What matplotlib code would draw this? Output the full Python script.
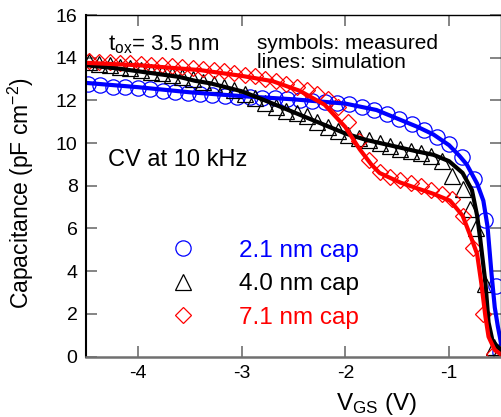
import matplotlib
matplotlib.use('Agg')
import matplotlib.pyplot as plt
from matplotlib.lines import Line2D

plt.rcParams['font.family'] = ['Liberation Sans', 'DejaVu Sans']
plt.rcParams['mathtext.default'] = 'regular'
plt.rcParams['axes.unicode_minus'] = False

# measured data (symbols)
v_21 = [-4.48, -4.36, -4.24, -4.12, -4.00, -3.88, -3.76, -3.64, -3.52, -3.40,
        -3.28, -3.16, -3.04, -2.92, -2.80, -2.68, -2.56, -2.44, -2.32, -2.20,
        -2.08, -1.96, -1.84, -1.72, -1.60, -1.48, -1.36, -1.24, -1.12, -1.00,
        -0.88, -0.76, -0.65, -0.55, -0.51]
c_21 = [12.75, 12.70, 12.65, 12.62, 12.57, 12.52, 12.46, 12.40, 12.35, 12.30,
        12.26, 12.22, 12.18, 12.15, 12.12, 12.10, 12.06, 12.02, 11.98, 11.93,
        11.88, 11.82, 11.68, 11.55, 11.35, 11.15, 10.90, 10.60, 10.30, 9.95,
        9.35, 8.30, 6.40, 3.30, 0.20]

v_40 = [-4.47, -4.37, -4.27, -4.17, -4.07, -3.97, -3.87, -3.77, -3.67, -3.57,
        -3.47, -3.37, -3.27, -3.17, -3.07, -2.97, -2.87, -2.77, -2.67, -2.57,
        -2.47, -2.37, -2.27, -2.17, -2.07, -1.97, -1.87, -1.77, -1.67, -1.57,
        -1.47, -1.37, -1.27, -1.17, -1.07, -0.97, -0.87, -0.80, -0.74, -0.65,
        -0.57, -0.52]
c_40 = [13.78, 13.72, 13.65, 13.58, 13.50, 13.42, 13.35, 13.27, 13.18, 13.08,
        12.98, 12.88, 12.76, 12.62, 12.47, 12.30, 12.10, 11.90, 11.70, 11.50,
        11.40, 11.25, 10.98, 10.75, 10.55, 10.38, 10.25, 10.15, 10.02, 9.88,
        9.72, 9.62, 9.55, 9.40, 9.15, 8.45, 7.85, 6.90, 6.00, 3.40,
        0.45, 0.15]

v_71 = [-4.47, -4.37, -4.27, -4.17, -4.07, -3.97, -3.87, -3.77, -3.67, -3.57,
        -3.47, -3.37, -3.27, -3.17, -3.07, -2.97, -2.87, -2.77, -2.67, -2.57,
        -2.47, -2.37, -2.27, -2.17, -2.07, -1.97, -1.87, -1.77, -1.67, -1.57,
        -1.47, -1.37, -1.27, -1.17, -1.07, -0.97, -0.87, -0.77, -0.67, -0.57]
c_71 = [13.85, 13.82, 13.80, 13.77, 13.74, 13.70, 13.67, 13.64, 13.60, 13.56,
        13.52, 13.47, 13.42, 13.36, 13.28, 13.20, 13.12, 13.02, 12.90, 12.76,
        12.62, 12.48, 12.30, 12.05, 11.70, 11.00, 10.10, 9.20, 8.65, 8.40,
        8.25, 8.12, 7.98, 7.80, 7.62, 7.40, 6.60, 5.10, 2.00, 0.10]

# simulation (lines)
vs_21 = [-4.5, -4.0, -3.5, -3.0, -2.5, -2.0, -1.7, -1.5, -1.3, -1.15, -1.0,
         -0.9, -0.83, -0.73, -0.67, -0.63, -0.59, -0.56, -0.53, -0.51, -0.5]
cs_21 = [12.82, 12.62, 12.38, 12.20, 12.05, 11.85, 11.55, 11.15, 10.75, 10.40,
         9.90, 9.40, 9.00, 8.10, 7.30, 6.10, 3.80, 2.30, 1.40, 0.90, 0.60]

vs_40 = [-4.5, -4.2, -3.9, -3.6, -3.45, -3.3, -3.0, -2.8, -2.6, -2.4, -2.2,
         -2.0, -1.8, -1.5, -1.3, -1.15, -1.0, -0.87, -0.78, -0.73, -0.70,
         -0.65, -0.62, -0.58, -0.5]
cs_40 = [13.65, 13.50, 13.30, 13.10, 12.92, 12.80, 12.43, 12.05, 11.65, 11.25,
         10.85, 10.45, 10.15, 9.82, 9.60, 9.45, 9.15, 8.60, 7.80, 6.60, 5.50,
         3.45, 1.60, 0.70, 0.30]

vs_71 = [-4.5, -4.0, -3.4, -3.0, -2.7, -2.44, -2.2, -2.0, -1.86, -1.75, -1.67,
         -1.47, -1.15, -0.99, -0.87, -0.78, -0.73, -0.69, -0.65, -0.62, -0.56,
         -0.5]
cs_71 = [13.76, 13.65, 13.42, 13.15, 12.90, 12.45, 11.80, 10.75, 9.70, 9.00,
         8.60, 8.15, 7.62, 7.30, 6.60, 5.47, 4.80, 3.45, 1.87, 0.93, 0.30, 0.10]

labels = ['2.1 nm cap', '4.0 nm cap', '7.1 nm cap']
colors = ['#0000ff', '#000000', '#ff0000']

fig = plt.figure(figsize=(5.02, 4.17), dpi=100)
ax = fig.add_axes([0.171, 0.145, 0.827, 0.819])

ax.plot(v_21, c_21, 'o', ms=11, mfc='none', mec=colors[0], mew=0.9)
ax.plot(v_40, c_40, '^', ms=11.5, mfc='none', mec=colors[1], mew=0.9)
ax.plot(v_71, c_71, 'D', ms=8.5, mfc='none', mec=colors[2], mew=0.9)

ax.plot(vs_21, cs_21, '-', color=colors[0], lw=3)
ax.plot(vs_40, cs_40, '-', color=colors[1], lw=3)
ax.plot(vs_71, cs_71, '-', color=colors[2], lw=3)

ax.set_xlim(-4.5, -0.5)
ax.set_ylim(0, 16)
ax.set_xticks([-4, -3, -2, -1])
ax.set_yticks(range(0, 17, 2))
ax.tick_params(direction='in', length=8, width=1.2, color='#707070',
               labelsize=14, top=True, right=True, pad=6)
ax.spines['bottom'].set_color('#707070')
ax.spines['bottom'].set_linewidth(1.8)
ax.spines['left'].set_linewidth(1.5)
ax.spines['top'].set_linewidth(1.0)
ax.spines['right'].set_linewidth(1.0)

ax.set_xlabel('V$_{GS}$ (V)', fontsize=17.5)
ax.xaxis.set_label_coords(0.70, -0.10)
ax.set_ylabel('Capacitance (pF cm$^{-2}$)', fontsize=16.5)
ax.yaxis.set_label_coords(-0.12, 0.48)

ax.text(0.053, 0.895, 't$_{ox}$= 3.5 nm', transform=ax.transAxes, fontsize=16)
ax.text(0.412, 0.845, 'symbols: measured\nlines: simulation',
        transform=ax.transAxes, fontsize=15, linespacing=1.0, va='baseline')
ax.text(0.053, 0.557, 'CV at 10 kHz', transform=ax.transAxes, fontsize=17)

handles = [
    Line2D([], [], ls='none', marker='o', ms=11, mfc='none', mec=colors[0], mew=0.9),
    Line2D([], [], ls='none', marker='^', ms=11.5, mfc='none', mec=colors[1], mew=0.9),
    Line2D([], [], ls='none', marker='D', ms=8.5, mfc='none', mec=colors[2], mew=0.9),
]
leg = ax.legend(handles, labels, loc='upper left', bbox_to_anchor=(0.182, 0.37),
                frameon=False, fontsize=17.5, handlelength=1.0,
                handletextpad=1.8, labelspacing=0.47, borderaxespad=0)
for t, c in zip(leg.get_texts(), colors):
    t.set_color(c)

fig.savefig('out.png', dpi=100)
